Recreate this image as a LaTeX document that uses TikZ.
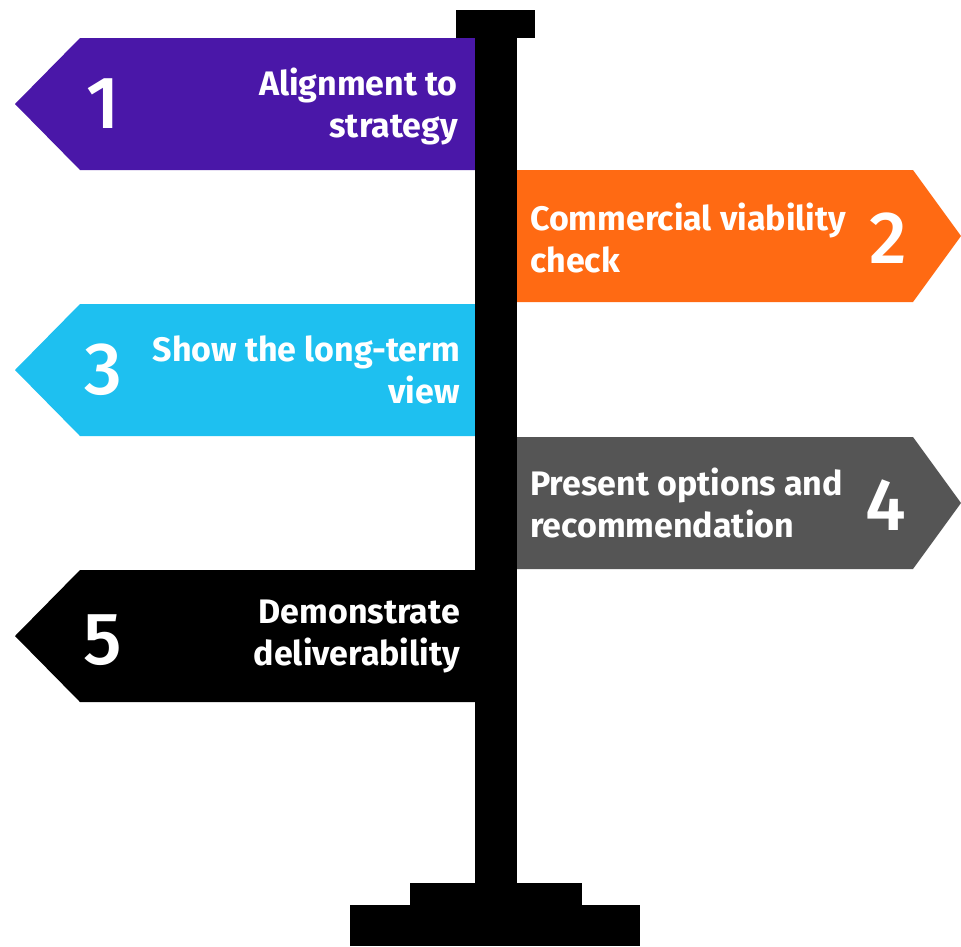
\documentclass[tikz,border=0pt]{standalone}
\usepackage{fontspec}
\setmainfont{Fira Sans}
\newfontfamily\numfont{Fira Sans Medium}
\definecolor{signpurple}{HTML}{4A17A8}
\definecolor{signorange}{HTML}{FF6A13}
\definecolor{signcyan}{HTML}{1EC0F0}
\definecolor{signgray}{HTML}{555555}
\tikzset{
  label/.style={text=white, font=\fontsize{34}{42}\selectfont\bfseries, inner sep=0pt},
  number/.style={text=white, font=\fontsize{74}{74}\selectfont\numfont, inner sep=0pt}
}
\begin{document}
\begin{tikzpicture}[x=1pt,y=-1pt]
      \useasboundingbox[fill=white] (0,0) rectangle (961,946);
      % left signs
      \fill[signpurple] (475,38) -- (80,38) -- (15,104) -- (80,170) -- (475,170) -- cycle;
      \fill[signcyan] (475,304) -- (80,304) -- (15,370) -- (80,436) -- (475,436) -- cycle;
      \fill[black] (475,570) -- (80,570) -- (15,636) -- (80,702) -- (475,702) -- cycle;
      % right signs
      \fill[signorange] (517,170) -- (913,170) -- (961,236) -- (913,302) -- (517,302) -- cycle;
      \fill[signgray] (517,437) -- (913,437) -- (961,503) -- (913,569) -- (517,569) -- cycle;
      % post
      \fill[black] (475,10) rectangle (517,890);
      \fill[black] (456,10) rectangle (535,38);
      \fill[black] (410,883) rectangle (582,906);
      \fill[black] (350,905) rectangle (640,946);
      % texts
      \node[number] (n1) at (103,104) {1};
      \node[label, align=right, anchor=east] (t1) at (458,106) {Alignment to\\strategy};
      \node[number] (n2) at (888,238) {2};
      \node[label, align=left, anchor=west] (t2) at (530,238) {Commercial viability\\check};
      \node[number] (n3) at (103,370) {3};
      \node[label, align=right, anchor=east] (t3) at (460,370) {Show the long-term\\view};
      \node[number] (n4) at (886,505) {4};
      \node[label, align=left, anchor=west] (t4) at (530,503) {Present options and\\recommendation};
      \node[number] (n5) at (103,640) {5};
      \node[label, align=right, anchor=east] (t5) at (460,636) {Demonstrate\\deliverability};
\end{tikzpicture}
\end{document}
